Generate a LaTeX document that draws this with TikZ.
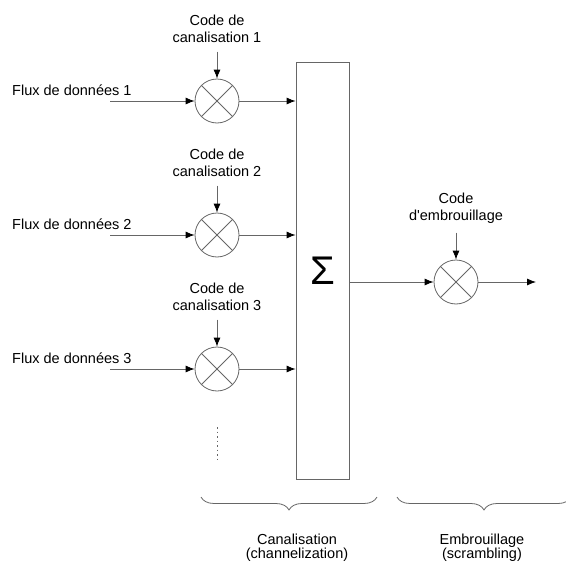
\documentclass[tikz,border=0pt]{standalone}
\usepackage{fontspec}
\setmainfont{Liberation Sans}
\usetikzlibrary{positioning,arrows.meta,decorations.pathreplacing}
\tikzset{
  line/.style={draw=black!60, line width=0.8pt},
  arr/.style={line, -{Latex[length=9pt,width=7pt,black]}},
  mult/.style={circle, draw=black!60, line width=0.8pt, minimum size=44pt, inner sep=0pt,
    path picture={\draw[black!60, line width=0.8pt]
      (path picture bounding box.north west) -- (path picture bounding box.south east)
      (path picture bounding box.north east) -- (path picture bounding box.south west);}},
  codelbl/.style={align=center, inner sep=9pt, font=\fontsize{14.5}{16.5}\selectfont},
  fluxlbl/.style={anchor=base west, inner sep=0pt, font=\fontsize{14.5}{16.5}\selectfont},
  sumbox/.style={draw=black!60, line width=0.8pt, minimum width=53pt, minimum height=417pt,
    inner sep=0pt, font=\fontsize{40}{40}\selectfont},
  brace/.style={line, decorate, decoration={brace, amplitude=13pt, mirror}},
  bracelbl/.style={align=center, font=\fontsize{14.5}{14}\selectfont},
}
\begin{document}
\begin{tikzpicture}[x=1pt,y=-1pt]
\useasboundingbox (0,0) rectangle (566,565);

\node[sumbox] (sum) at (322.5,270.5) {Σ};

% canalisation
\node[mult] (mul1) at (217,101) {};
\node[mult] (mul2) at (217,235) {};
\node[mult] (mul3) at (217,369) {};

\node[codelbl, above=27pt of mul1] (code1) {Code de\\canalisation 1};
\node[codelbl, above=27pt of mul2] (code2) {Code de\\canalisation 2};
\node[codelbl, above=27pt of mul3] (code3) {Code de\\canalisation 3};

\node[fluxlbl] (flux1) at (12,95) {Flux de données 1};
\node[fluxlbl] (flux2) at (12,229) {Flux de données 2};
\node[fluxlbl] (flux3) at (12,363) {Flux de données 3};

\coordinate (in1) at (110,101);
\coordinate (in2) at (110,235);
\coordinate (in3) at (110,369);

\draw[arr] (code1) -- (mul1);
\draw[arr] (code2) -- (mul2);
\draw[arr] (code3) -- (mul3);
\draw[arr] (in1) -- (mul1);
\draw[arr] (in2) -- (mul2);
\draw[arr] (in3) -- (mul3);
\draw[arr] (mul1) -- (mul1 -| sum.west);
\draw[arr] (mul2) -- (mul2 -| sum.west);
\draw[arr] (mul3) -- (mul3 -| sum.west);

\coordinate (dotstop) at (217,427);
\coordinate (dotsbot) at (217,459);
\draw[line, dash pattern=on 1.5pt off 3pt] (dotstop) -- (dotsbot);

% embrouillage
\node[mult] (scr) at (456,282) {};
\node[codelbl, above=27pt of scr] (codescr) {Code\\d\textquotesingle embrouillage};
\coordinate (out) at (536,282);
\draw[arr] (codescr) -- (scr);
\draw[arr] (sum.east |- scr) -- (scr);
\draw[arr] (scr) -- (out);

% accolades
\draw[brace] (201,497) -- (377,497);
\draw[brace] (397,497) -- (571,497);
\node[bracelbl] (canal) at (297,548) {Canalisation\\(channelization)};
\node[bracelbl] (embr) at (482,548) {Embrouillage\\(scrambling)};
\end{tikzpicture}
\end{document}
